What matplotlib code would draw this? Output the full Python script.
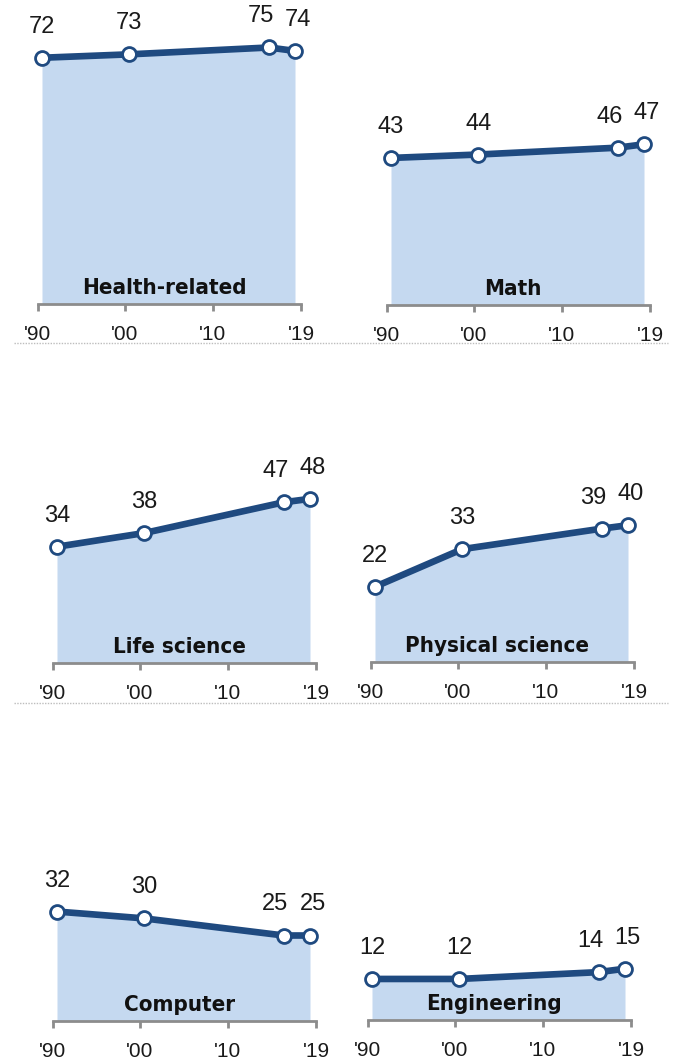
import matplotlib
matplotlib.use("Agg")
import matplotlib.pyplot as plt
from matplotlib.lines import Line2D

# Share of degrees earned by women, by field
years = [1990, 2000, 2016, 2019]
fields = ["Health-related", "Math", "Life science", "Physical science", "Computer", "Engineering"]
health = [72, 73, 75, 74]
math_ = [43, 44, 46, 47]
life = [34, 38, 47, 48]
physical = [22, 33, 39, 40]
computer = [32, 30, 25, 25]
engineering = [12, 12, 14, 15]
series = [health, math_, life, physical, computer, engineering]

tick_pos = [1989.5, 1999.5, 2009.6, 2019.7]
tick_labels = ["'90", "'00", "'10", "'19"]

LINE = "#1f4a80"
FILL = "#c5d9f0"
AXIS = "#8c8c8c"

W, H = 675, 1059
PX_YEAR = 253 / 29      # pixels per year
PX_UNIT = 3.42          # pixels per percentage point
YMAX = 80

# pixel position of the 1990 point and the baseline for each panel
anchors = [(42, 304), (391, 305), (57, 663), (375, 662), (57, 1021), (372, 1020)]

num_font = ["Liberation Sans", "DejaVu Sans"]

fig = plt.figure(figsize=(W / 100, H / 100), dpi=100)

for name, vals, (px, base) in zip(fields, series, anchors):
    left = px - (years[0] - tick_pos[0]) * PX_YEAR
    width = (tick_pos[-1] - tick_pos[0]) * PX_YEAR
    ax = fig.add_axes([left / W, 1 - base / H, width / W, YMAX * PX_UNIT / H])
    ax.set_xlim(tick_pos[0], tick_pos[-1])
    ax.set_ylim(0, YMAX)
    ax.patch.set_alpha(0)

    ax.fill_between(years, vals, 0, color=FILL, lw=0, zorder=1)
    ax.plot(years, vals, color=LINE, lw=4.8, zorder=3, clip_on=False,
            marker="o", ms=10, mfc="white", mec=LINE, mew=2)

    dxs = [0, 0, -6, 2]
    for x, v, dx in zip(years, vals, dxs):
        ax.annotate(str(v), (x, v), xytext=(dx, 18), textcoords="offset points",
                    ha="center", va="baseline", fontsize=17, color="#1a1a1a",
                    family=num_font, annotation_clip=False)

    ax.annotate(name, (2004, 0), xytext=(0, 4), textcoords="offset points",
                ha="center", va="bottom", fontsize=16, fontweight="bold",
                fontstretch="condensed", color="#111111",
                family="DejaVu Sans", zorder=4)

    for s in ["top", "right", "left"]:
        ax.spines[s].set_visible(False)
    ax.spines["bottom"].set_color(AXIS)
    ax.spines["bottom"].set_linewidth(2)
    ax.set_yticks([])
    ax.set_xticks(tick_pos)
    ax.set_xticklabels(tick_labels, family=num_font, fontsize=15, color="#1a1a1a")
    ax.tick_params(axis="x", direction="out", length=5, width=2, color=AXIS, pad=10)

# dotted separators between rows
for y in [343, 703]:
    fig.add_artist(Line2D([14 / W, 668 / W], [1 - y / H, 1 - y / H],
                          color="#bdbdbd", lw=1, ls=(0, (1, 1))))

fig.savefig("out.png", dpi=100)
